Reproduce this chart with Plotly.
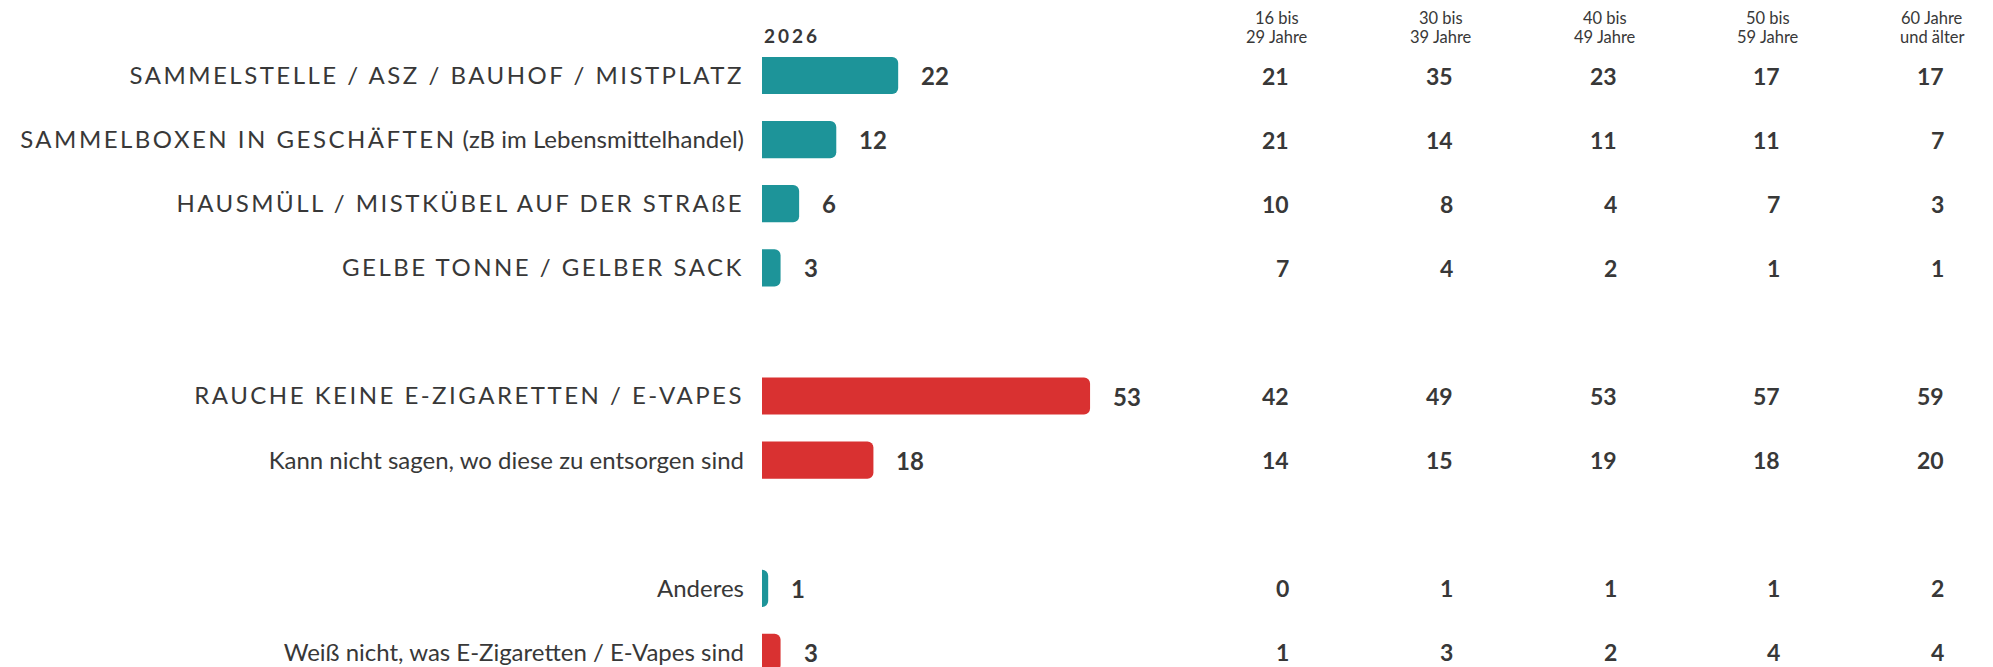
import plotly.graph_objects as go

# answer labels, grouped (a blank row sits between the groups)
labels = [
    'SAMMELSTELLE / ASZ / BAUHOF / MISTPLATZ',
    'SAMMELBOXEN IN GESCHÄFTEN (zB im Lebensmittelhandel)',
    'HAUSMÜLL / MISTKÜBEL AUF DER STRAßE',
    'GELBE TONNE / GELBER SACK',
    'RAUCHE KEINE E-ZIGARETTEN / E-VAPES',
    'Kann nicht sagen, wo diese zu entsorgen sind',
    'Anderes',
    'Weiß nicht, was E-Zigaretten / E-Vapes sind',
]
group_sizes = [4, 2, 2]
answer_kind = ['ort', 'ort', 'ort', 'ort', 'keine', 'keine', 'ort', 'keine']

total_2026 = [22, 12, 6, 3, 53, 18, 1, 3]

age_groups = [('16 bis', '29 Jahre'), ('30 bis', '39 Jahre'), ('40 bis', '49 Jahre'),
              ('50 bis', '59 Jahre'), ('60 Jahre', 'und älter')]
age_16_29 = [21, 21, 10, 7, 42, 14, 0, 1]
age_30_39 = [35, 14, 8, 4, 49, 15, 1, 3]
age_40_49 = [23, 11, 4, 2, 53, 19, 1, 2]
age_50_59 = [17, 11, 7, 1, 57, 18, 1, 4]
age_60_plus = [17, 7, 3, 1, 59, 20, 2, 4]
age_values = [age_16_29, age_30_39, age_40_49, age_50_59, age_60_plus]

# styling
TEAL = '#1d9499'
RED = '#d93131'
TXT = '#383838'
FONT = 'Lato'
kind_color = {'ort': TEAL, 'keine': RED}

W, H = 1993, 667
LEFT = 762          # bars start here (px)
PX_PER_PCT = 6.19
ROW0_PX, ROW_PX = 75.5, 64.1
COL0_RIGHT, COL_PX = 1289, 163.75

# row slots with gaps between groups
ypos = []
slot = 0
for n in group_sizes:
    for _ in range(n):
        ypos.append(slot)
        slot += 1
    slot += 1


def is_caps(s):
    s = s.replace('ß', '')
    return any(c.isupper() for c in s) and not any(c.islower() for c in s)


def fmt(label):
    head, sep, tail = label.partition(' (')
    if is_caps(head):
        out = f'<span style="letter-spacing:2.5px">{head}</span>'
        if sep:
            out += ' (' + tail
        return out
    return label


plot_w = W - LEFT
y_top = -ROW0_PX / ROW_PX
y_bot = (H - ROW0_PX) / ROW_PX
x2_r0 = -(COL0_RIGHT - LEFT) / COL_PX
x2_r1 = x2_r0 + plot_w / COL_PX

fig = go.Figure()
fig.add_trace(go.Bar(
    x=total_2026, y=ypos, orientation='h', width=0.58,
    marker=dict(color=[kind_color[k] for k in answer_kind], cornerradius=6, line_width=0),
    hoverinfo='skip', showlegend=False))

ann = []
for i, vals in enumerate(age_values):
    # invisible anchor points for the age table columns
    fig.add_trace(go.Scatter(
        x=[i] * len(vals), y=ypos, xaxis='x2', mode='markers',
        marker=dict(size=1, opacity=0), hoverinfo='skip', showlegend=False))
    for v, y in zip(vals, ypos):
        ann.append(dict(x=i, y=y, xref='x2', yref='y', text=f'<b>{v}</b>', showarrow=False,
                        xanchor='right', yanchor='middle', xshift=2,
                        font=dict(family=FONT, size=23, color=TXT)))

for v, y in zip(total_2026, ypos):
    ann.append(dict(x=v, y=y, xref='x', yref='y', text=f'<b>{v}</b>', showarrow=False,
                    xanchor='left', yanchor='middle', xshift=21,
                    font=dict(family=FONT, size=24, color=TXT)))
for i, (l1, l2) in enumerate(age_groups):
    for txt, dy in ((l1, 9.5), (l2, -9.5)):
        ann.append(dict(x=i, y=-0.749, xref='x2', yref='y', text=txt, showarrow=False,
                        xanchor='center', yanchor='middle', xshift=-12, yshift=dy,
                        font=dict(family=FONT, size=16.5, color=TXT)))
ann.append(dict(x=0, y=-0.63, xref='x', yref='y', showarrow=False,
                text='<b><span style="letter-spacing:3px">2026</span></b>',
                xanchor='left', yanchor='middle',
                font=dict(family=FONT, size=19, color=TXT)))

fig.update_layout(
    width=W, height=H,
    margin=dict(l=LEFT, r=0, t=0, b=0),
    paper_bgcolor='white', plot_bgcolor='white',
    font=dict(family=FONT, color=TXT),
    xaxis=dict(range=[0, plot_w / PX_PER_PCT], visible=False, fixedrange=True),
    xaxis2=dict(range=[x2_r0, x2_r1], overlaying='x', visible=False, fixedrange=True),
    yaxis=dict(range=[y_bot, y_top], tickvals=ypos, ticktext=[fmt(l) for l in labels],
               showgrid=False, zeroline=False, showline=False, ticks='',
               ticklabelstandoff=17, tickfont=dict(family=FONT, size=24, color=TXT),
               fixedrange=True),
    annotations=ann,
)

fig.write_html('out.html', config={'displayModeBar': False},
               post_script="document.body.style.margin='0';")
